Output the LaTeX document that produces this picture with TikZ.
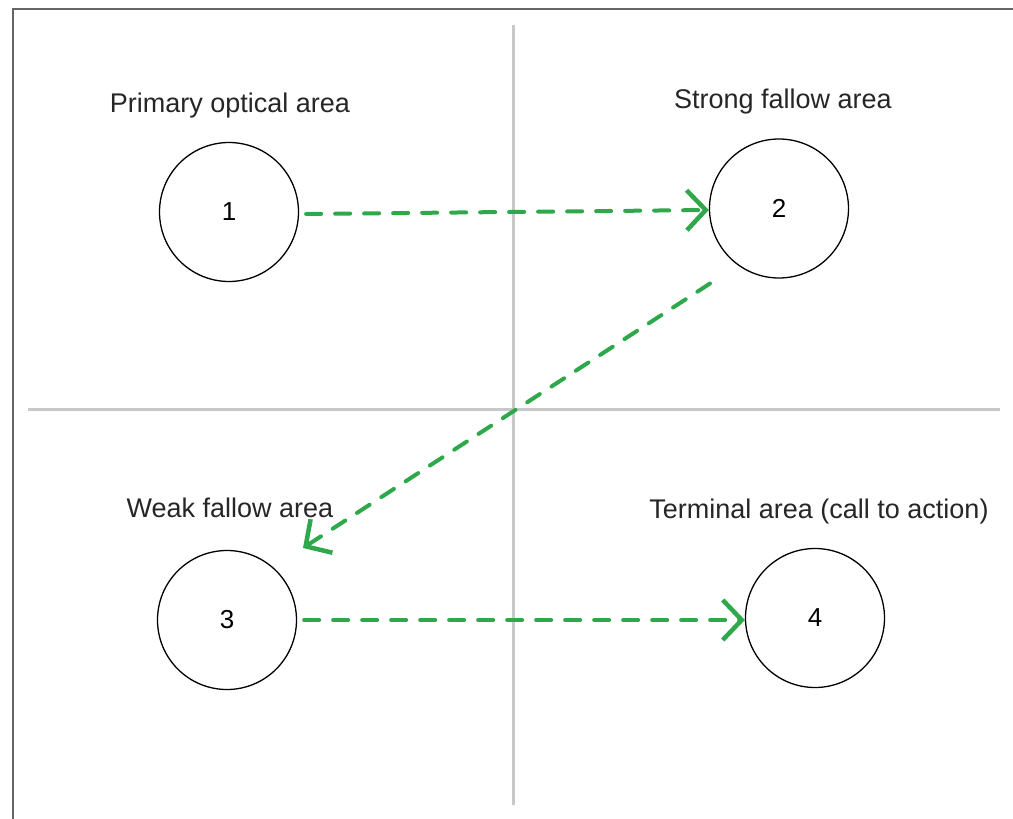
\documentclass[tikz,border=0pt]{standalone}
\usepackage{fontspec}
\setmainfont{Liberation Sans}
\usetikzlibrary{arrows.meta}
\definecolor{frame}{HTML}{666666}
\definecolor{axis}{HTML}{C8C8C8}
\definecolor{grn}{HTML}{2EA84A}
\tikzset{
  area/.style={circle, draw=black, line width=1.3pt, minimum size=139pt, inner sep=0pt, font=\fontsize{26}{28}\selectfont},
  lbl/.style={anchor=base, inner sep=0pt, font=\fontsize{27}{30}\selectfont, text=black!85},
  flow/.style={draw=grn, line width=4pt, line cap=round, dash pattern=on 15pt off 14pt,
    -{Straight Barb[length=19pt,width=40pt,line width=4.5pt]}}
}
\begin{document}
\begin{tikzpicture}[x=1pt,y=-1pt]
\useasboundingbox (0,0) rectangle (1013,819);
\fill[white] (0,0) rectangle (1013,819);
% frame
\draw[frame, line width=2.5pt] (13,819) -- (13,9) -- (1013,9);
% axes
\coordinate (vt) at (513,25);
\coordinate (vb) at (513,805);
\coordinate (hl) at (28,409.5);
\coordinate (hr) at (1000,409.5);
\draw[axis, line width=3pt] (vt) -- (vb);
\draw[axis, line width=3pt] (hl) -- (hr);
% circles
\node[area] (c1) at (229,212) {1};
\node[area] (c2) at (779,208.5) {2};
\node[area] (c3) at (227,620) {3};
\node[area] (c4) at (815,618) {4};
% labels
\node[lbl] (l1) at (230,112) {Primary optical area};
\node[lbl] (l2) at (783,108) {Strong fallow area};
\node[lbl] (l3) at (230,517) {Weak fallow area};
\node[lbl] (l4) at (819,518) {Terminal area (call to action)};
% connector end points
\coordinate (a1s) at ([shift={(7,2)}]c1.east);
\coordinate (a1e) at ([shift={(0,1.5)}]c2.west);
\coordinate (a2s) at ([shift={(-69,75)}]c2.center);
\coordinate (a2e) at ([shift={(76,-72)}]c3.center);
\coordinate (a3s) at ([shift={(7,0)}]c3.east);
\coordinate (a3e) at ([shift={(0,2)}]c4.west);
\draw[flow] (a1s) -- (a1e);
\draw[flow] (a2s) -- (a2e);
\draw[flow] (a3s) -- (a3e);
\end{tikzpicture}
\end{document}
